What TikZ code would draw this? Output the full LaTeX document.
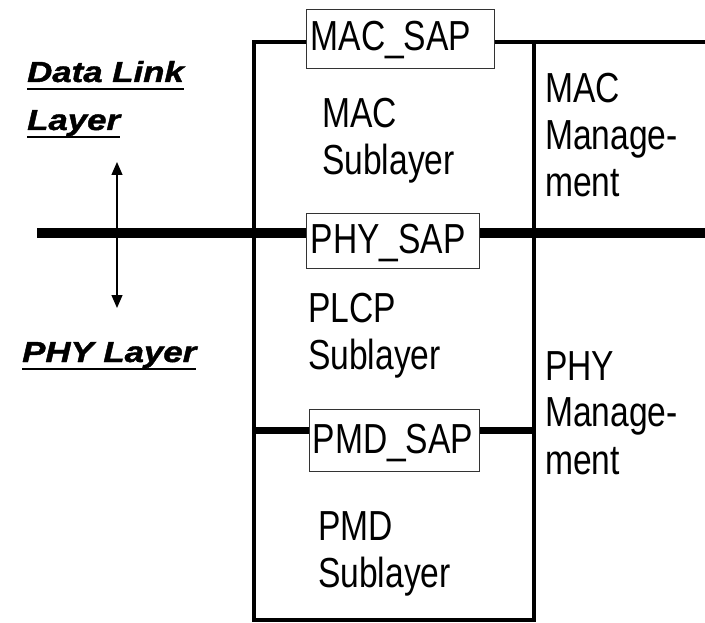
\documentclass[tikz,border=0pt]{standalone}
\usepackage{fontspec}
\setmainfont{Liberation Sans}[FakeStretch=0.8]
\newfontfamily\lblfont{Liberation Sans}[FakeStretch=1.2,BoldItalicFeatures={FakeBold=1.5}]
\usetikzlibrary{arrows.meta}
\newcommand\twolines[2]{\begin{tabular}[t]{@{}l@{}}#1\\#2\end{tabular}}
\newcommand\threelines[3]{\begin{tabular}[t]{@{}l@{}}#1\\#2\\#3\end{tabular}}
\begin{document}
\begin{tikzpicture}[x=1pt,y=-1pt,
  bigtext/.style={anchor=base west,inner sep=0pt,font=\fontsize{42}{47}\selectfont},
  lbltext/.style={anchor=base west,inner sep=0pt,font=\lblfont\bfseries\itshape\fontsize{29}{34}\selectfont},
  uline/.style={line width=2.8pt},
  frame/.style={line width=4.5pt},
  thickbar/.style={line width=10pt},
  medbar/.style={line width=7pt},
  sapbox/.style={draw=black!80,line width=1.3pt,fill=white,anchor=north west,
    inner ysep=0pt,align=left,font=\fontsize{42}{47}\selectfont},
  dblarrow/.style={line width=1.2pt,{Triangle[length=13pt,width=11pt]}-{Triangle[length=13pt,width=11pt]}}
]
\useasboundingbox (0,0) rectangle (705,623);
% frame coordinates
\coordinate (TL) at (254,42);
\coordinate (TR) at (534,42);
\coordinate (BL) at (254,620);
\coordinate (BR) at (534,620);
\coordinate (E1) at (705,42);
\coordinate (L2) at (37,233);
\coordinate (E2) at (705,233);
\coordinate (P3L) at (254,430);
\coordinate (P3R) at (534,430);
% lines
\draw[frame] (TL) -- (TR) -- (BR) -- (BL) -- cycle;
\draw[frame] (TR) -- (E1);
\draw[thickbar] (L2) -- (E2);
\draw[medbar] (P3L) -- (P3R);
% SAP boxes
\node[sapbox,inner xsep=4pt,text width=180pt,text height=41pt,text depth=18pt] (macsap) at (306,9) {MAC\_SAP};
\node[sapbox,inner xsep=4pt,text width=165pt,text height=40pt,text depth=15pt] (physap) at (306,213) {PHY\_SAP};
\node[sapbox,inner xsep=3pt,text width=164pt,text height=44pt,text depth=18pt] (pmdsap) at (309,409) {PMD\_SAP};
% texts
\node[bigtext] (macsub) at (322,128) {\twolines{MAC}{Sublayer}};
\node[bigtext] (macmgmt) at (545,103) {\threelines{MAC}{Manage-}{ment}};
\node[bigtext] (plcpsub) at (308,323) {\twolines{PLCP}{Sublayer}};
\node[bigtext] (phymgmt) at (545,380) {\threelines{PHY}{Manage-}{ment}};
\node[bigtext] (pmdsub) at (318,540) {\twolines{PMD}{Sublayer}};
% left labels
\node[lbltext] (dl1) at (27,82) {Data Link};
\node[lbltext] (dl2) at (27,130) {Layer};
\node[lbltext] (phyl) at (22,362) {PHY Layer};
\draw[uline] ([yshift=-7pt]dl1.base west) -- ([yshift=-7pt]dl1.base east);
\draw[uline] ([yshift=-7pt]dl2.base west) -- ([yshift=-7pt]dl2.base east);
\draw[uline] ([yshift=-7pt]phyl.base west) -- ([yshift=-7pt]phyl.base east);
% arrow
\coordinate (AT) at (117,162);
\coordinate (AB) at (117,308);
\draw[dblarrow] (AT) -- (AB);
\end{tikzpicture}
\end{document}
